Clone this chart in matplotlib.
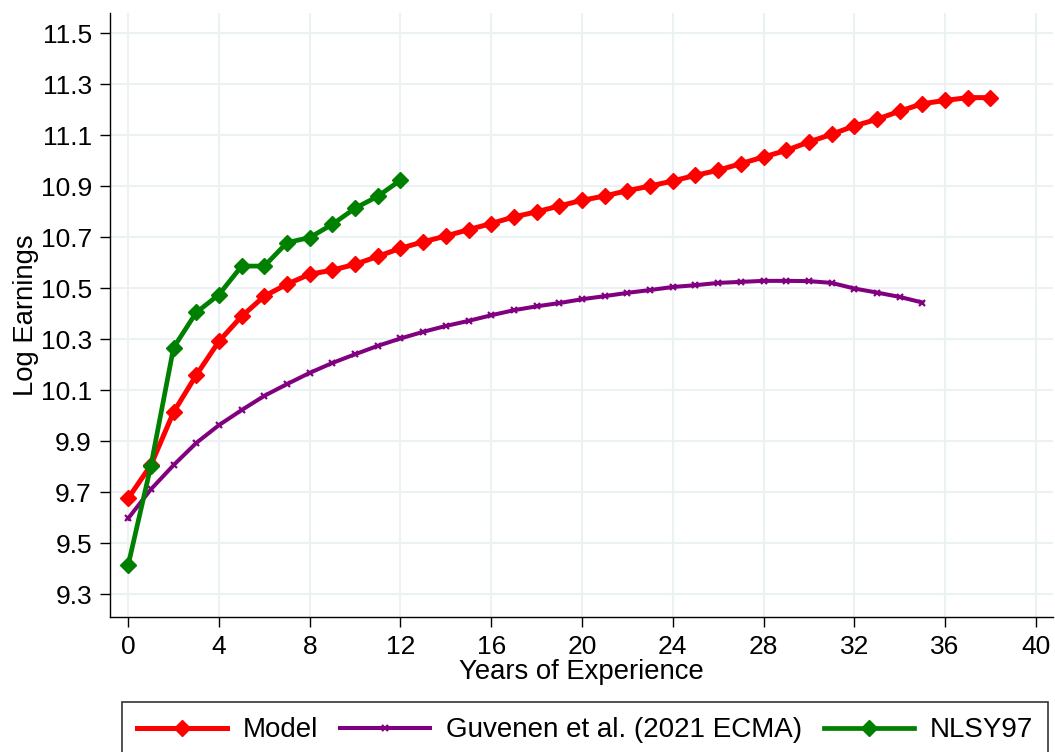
import numpy as np
import matplotlib
matplotlib.use("Agg")
import matplotlib.pyplot as plt

plt.rcParams["font.family"] = ["Liberation Sans", "DejaVu Sans"]

# log earnings by years of experience
years_model = list(range(0, 39))
model = [9.676, 9.806, 10.014, 10.159, 10.292, 10.390, 10.469, 10.516, 10.555, 10.571,
         10.594, 10.625, 10.657, 10.682, 10.705, 10.730, 10.754, 10.780, 10.800, 10.823,
         10.845, 10.862, 10.883, 10.901, 10.921, 10.943, 10.963, 10.989, 11.015, 11.041,
         11.074, 11.104, 11.137, 11.163, 11.195, 11.224, 11.237, 11.248, 11.248]

years_guv = list(range(0, 36))
guvenen = [9.597, 9.711, 9.806, 9.893, 9.963, 10.022, 10.078, 10.124, 10.168, 10.207,
           10.241, 10.274, 10.303, 10.329, 10.352, 10.372, 10.394, 10.414, 10.429, 10.442,
           10.457, 10.469, 10.482, 10.493, 10.505, 10.512, 10.521, 10.525, 10.529, 10.529,
           10.528, 10.521, 10.499, 10.483, 10.466, 10.444]

years_nlsy = list(range(0, 13))
nlsy97 = [9.414, 9.803, 10.267, 10.405, 10.475, 10.587, 10.587, 10.679, 10.699, 10.751,
          10.814, 10.861, 10.924]

fig = plt.figure(figsize=(10.55, 7.52), dpi=100)
ax = fig.add_axes([0.1043, 0.1795, 0.8937, 0.8032])

ax.plot(years_model, model, "-", color="#ff0000", lw=3.6, marker="D", ms=8.5,
        mec="#ff0000", label="Model", zorder=3)
ax.plot(years_guv, guvenen, "-", color="#800080", lw=2.9, marker="x", ms=4.5,
        mew=1.6, label="Guvenen et al. (2021 ECMA)", zorder=2)
ax.plot(years_nlsy, nlsy97, "-", color="#008000", lw=3.4, marker="D", ms=8.5,
        mec="#008000", label="NLSY97", zorder=4)

ax.set_xlim(-0.8, 40.75)
ax.set_ylim(9.21, 11.58)
ax.set_xticks(np.arange(0, 41, 4))
ax.set_yticks(np.arange(9.3, 11.51, 0.2))
ax.set_yticklabels([f"{v:.1f}" for v in np.arange(9.3, 11.51, 0.2)])
ax.tick_params(direction="out", length=7, width=1, labelsize=19, pad=6, color="black")
ax.grid(True, color="#eaf2f3", lw=1.5)
ax.set_axisbelow(True)
for s in ["top", "right"]:
    ax.spines[s].set_visible(False)
for s in ["left", "bottom"]:
    ax.spines[s].set_linewidth(1.0)

ax.set_xlabel("Years of Experience", fontsize=19.8, labelpad=0)
ax.set_ylabel("Log Earnings", fontsize=19.8, labelpad=1)

leg = fig.legend(loc="upper center", bbox_to_anchor=(585 / 1055, 1 - 702 / 752), ncol=3,
                 fontsize=20, frameon=True, fancybox=False, edgecolor="black",
                 handlelength=3.25, handletextpad=0.55, columnspacing=0.8,
                 borderpad=0.55, borderaxespad=0, numpoints=1)
leg.get_frame().set_linewidth(1.2)

fig.savefig("out.png", dpi=100)
